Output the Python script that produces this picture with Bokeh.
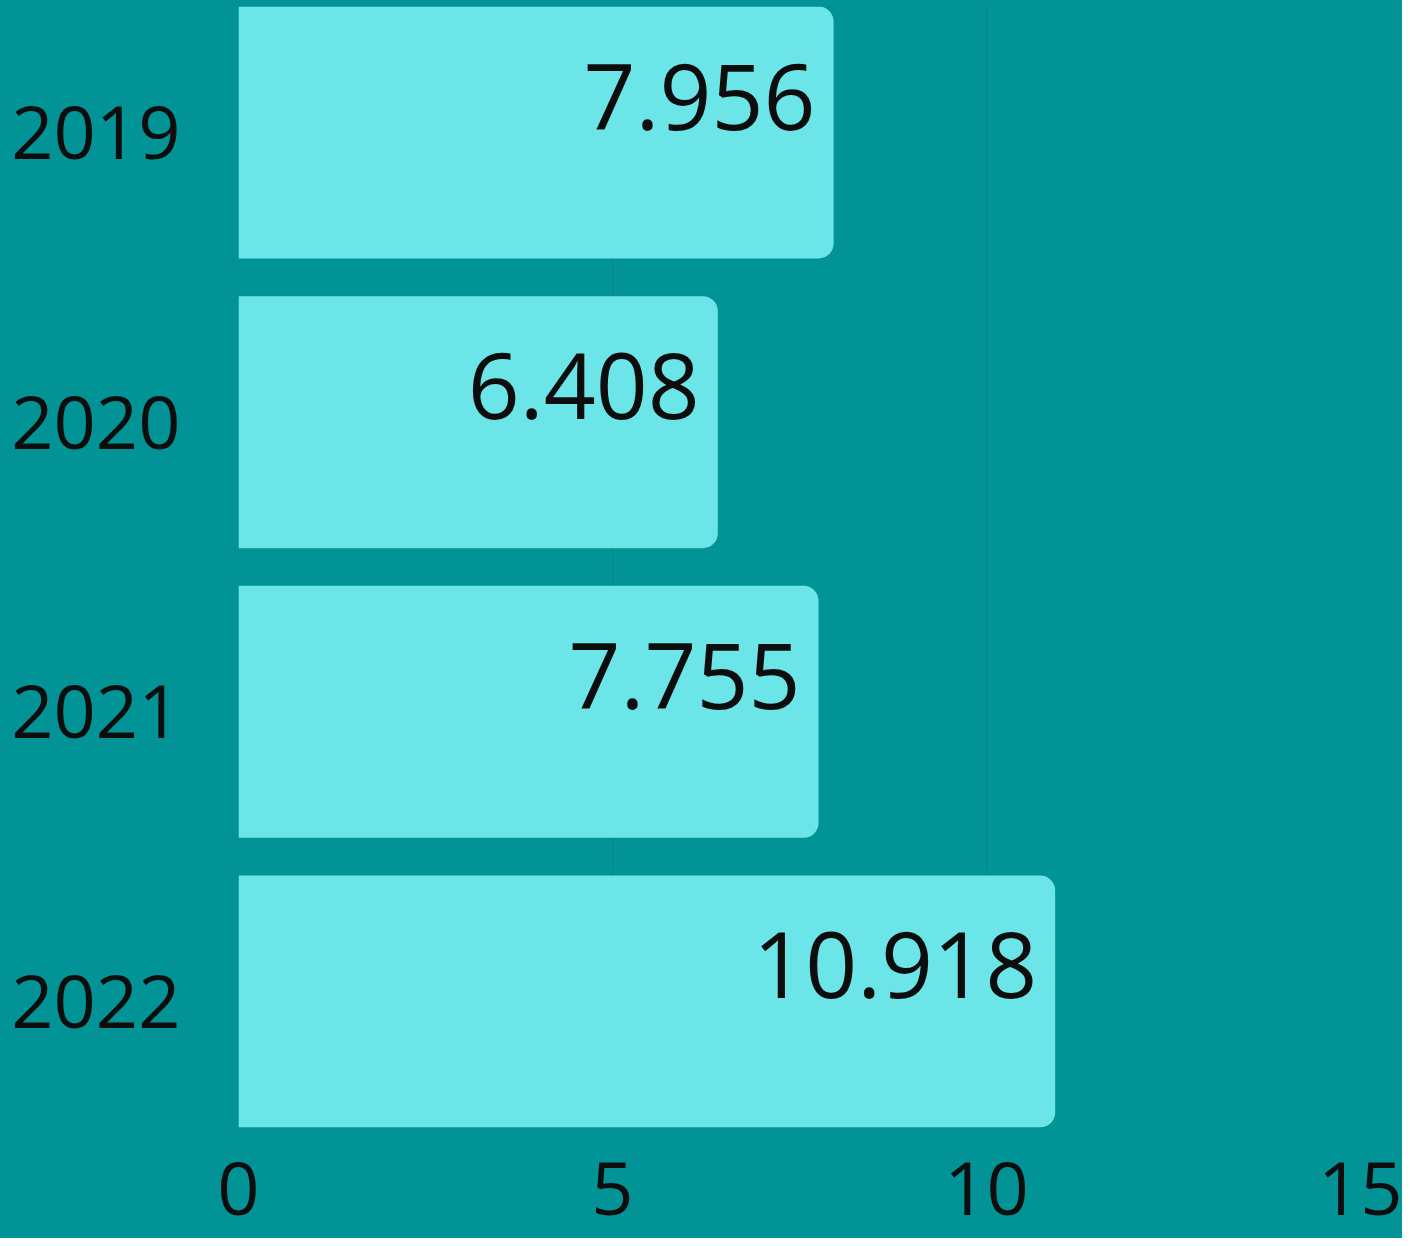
from bokeh.plotting import figure
from bokeh.models import Range1d, FixedTicker, ColumnDataSource
from bokeh.core.properties import value
from bokeh.embed import file_html
from bokeh.resources import INLINE

# ---- data ----
years = ["2019", "2020", "2021", "2022"]
values = [7.956, 6.408, 7.755, 10.918]
x_ticks = [0, 5, 10, 15]

# ---- style ----
BG = "#019396"
BAR = "#6ce5e8"
GRID = "#00858a"
INK = "#0d0d0d"
FONT = "Open Sans"
BAR_H = 0.87
PAD = BAR_H / 2

pos = list(range(len(years)))
labels = [f"{v:.3f}" for v in values]
src = ColumnDataSource(dict(y=pos, v=values, lab=labels))

y_bottom = pos[-1] + PAD
y_top = pos[0] - PAD

p = figure(width=1402, height=1238, output_backend="svg", toolbar_location=None,
           x_range=Range1d(x_ticks[0], x_ticks[-1]),
           y_range=Range1d(y_bottom, y_top),
           min_border_left=238, min_border_right=42,
           min_border_top=6, min_border_bottom=111)

p.background_fill_color = BG
p.border_fill_color = None
p.styles = {"background-color": BG}
p.outline_line_color = None

p.hbar(y="y", left=0, right="v", height=BAR_H, source=src,
       fill_color=BAR, line_color=None, border_radius=(0, 15, 15, 0))

p.text(x="v", y="y", text="lab", source=src, text_align="right",
       text_baseline="alphabetic", x_offset=-18, y_offset=-36,
       text_font=value(FONT), text_font_size="91px", text_color=INK)

# x axis
xa = p.xaxis[0]
xa.ticker = FixedTicker(ticks=x_ticks)
xa.axis_line_color = None
xa.major_tick_line_color = None
xa.minor_tick_line_color = None
xa.major_tick_out = 0
xa.major_tick_in = 0
xa.major_label_standoff = 34
xa.major_label_text_font = FONT
xa.major_label_text_font_size = "74px"
xa.major_label_text_color = INK

# y axis
ya = p.yaxis[0]
ya.ticker = FixedTicker(ticks=pos)
ya.major_label_overrides = {i: y for i, y in zip(pos, years)}
ya.axis_line_color = None
ya.major_tick_line_color = None
ya.minor_tick_line_color = None
ya.major_tick_out = 0
ya.major_tick_in = 0
ya.major_label_standoff = 58
ya.major_label_text_font = FONT
ya.major_label_text_font_size = "74px"
ya.major_label_text_color = INK

p.ygrid.visible = False
p.xgrid.grid_line_color = GRID
p.xgrid.grid_line_width = 1

open("out.html", "w").write(file_html(p, INLINE))
